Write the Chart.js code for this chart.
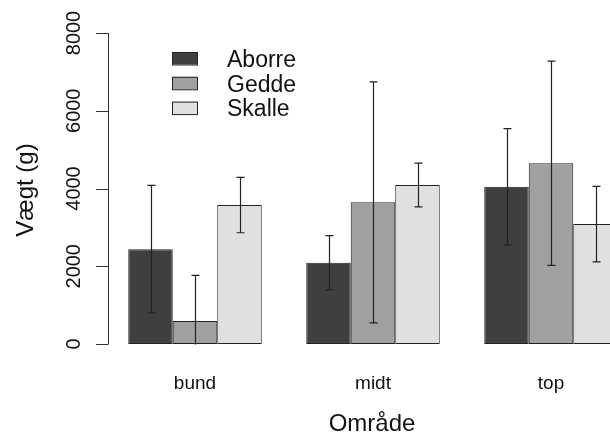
<!DOCTYPE html>
<html><head><meta charset="utf-8">
<script src="https://cdn.jsdelivr.net/npm/chart.js@4/dist/chart.umd.min.js"></script>
<style>
html,body{margin:0;padding:0;background:#fff;overflow:hidden;width:610px;height:441px}
canvas{display:block}
</style>
</head><body>
<canvas id="c" width="640" height="441"></canvas>
<script>
// Mean weight per fish species in each area, with standard deviations
const categories = ['bund', 'midt', 'top'];
const seriesNames = ['Aborre', 'Gedde', 'Skalle'];
const aborre = [2440, 2090, 4045];
const gedde = [590, 3645, 4650];
const skalle = [3575, 4090, 3085];
const aborreSd = [1640, 700, 1495];
const geddeSd = [1175, 3100, 2625];
const skalleSd = [713, 565, 970];
const yTicks = [0, 2000, 4000, 6000, 8000];
const yTitle = 'Vægt (g)';
const xTitle = 'Område';

const fills = ['#3f3f3f', '#a0a0a0', '#e0e0e0'];
const FONT = '"Liberation Sans", Arial, Helvetica, sans-serif';
const INK = '#111';

const values = [aborre, gedde, skalle];
const sds = [aborreSd, geddeSd, skalleSd];

const decorations = {
  id: 'decorations',
  afterDatasetsDraw(chart) {
    const ctx = chart.ctx, y = chart.scales.y, area = chart.chartArea;
    ctx.save();
    ctx.beginPath();
    ctx.rect(area.left, area.top, area.right - area.left, area.bottom - area.top + 0.5);
    ctx.clip();
    ctx.strokeStyle = '#222';
    ctx.lineWidth = 1.2;
    sds.forEach((sd, i) => {
      const meta = chart.getDatasetMeta(i);
      meta.data.forEach((bar, j) => {
        const v = values[i][j];
        const x = Math.round(bar.x) + 0.5;
        const yHi = y.getPixelForValue(v + sd[j]);
        const yLo = y.getPixelForValue(v - sd[j]);
        ctx.beginPath();
        ctx.moveTo(x, yHi); ctx.lineTo(x, yLo);
        ctx.moveTo(x - 4, yHi); ctx.lineTo(x + 4, yHi);
        ctx.moveTo(x - 4, yLo); ctx.lineTo(x + 4, yLo);
        ctx.stroke();
      });
    });
    ctx.restore();
  },
  afterDraw(chart) {
    const ctx = chart.ctx, y = chart.scales.y, x = chart.scales.x;
    ctx.save();
    // y axis line and ticks
    const ax = 108.5;
    ctx.strokeStyle = '#333';
    ctx.lineWidth = 1;
    ctx.beginPath();
    ctx.moveTo(ax, y.getPixelForValue(yTicks[0]));
    ctx.lineTo(ax, y.getPixelForValue(yTicks[yTicks.length - 1]));
    yTicks.forEach(t => {
      const py = Math.round(y.getPixelForValue(t)) + 0.5;
      ctx.moveTo(96, py); ctx.lineTo(ax, py);
    });
    ctx.stroke();
    // rotated tick labels
    ctx.fillStyle = INK;
    ctx.font = '20px ' + FONT;
    ctx.textAlign = 'center';
    ctx.textBaseline = 'alphabetic';
    yTicks.forEach(t => {
      ctx.save();
      ctx.translate(80, y.getPixelForValue(t));
      ctx.rotate(-Math.PI / 2);
      ctx.fillText(String(t), 0, 0);
      ctx.restore();
    });
    // y title
    ctx.save();
    ctx.font = '24px ' + FONT;
    ctx.translate(33, 190);
    ctx.rotate(-Math.PI / 2);
    ctx.fillText(yTitle, 0, 0);
    ctx.restore();
    // category labels
    ctx.font = '19px ' + FONT;
    categories.forEach((c, i) => {
      ctx.fillText(c, x.getPixelForValue(i), 389);
    });
    // x title
    ctx.font = '24px ' + FONT;
    ctx.fillText(xTitle, 372, 431);
    // legend
    ctx.textAlign = 'left';
    ctx.font = '23px ' + FONT;
    seriesNames.forEach((name, i) => {
      const by = 52 + i * 24.8;
      ctx.fillStyle = fills[i];
      ctx.fillRect(172, by, 25, 12.5);
      ctx.strokeStyle = '#222';
      ctx.strokeRect(172.5, by + 0.5, 25, 12.5);
      ctx.fillStyle = INK;
      ctx.fillText(name, 227, 67 + i * 24.6);
    });
    ctx.restore();
  }
};

new Chart(document.getElementById('c'), {
  type: 'bar',
  data: {
    labels: categories,
    datasets: seriesNames.map((name, i) => ({
      label: name,
      data: values[i],
      backgroundColor: fills[i],
      borderColor: '#222',
      borderWidth: 1,
      borderSkipped: false,
      categoryPercentage: 0.75,
      barPercentage: 1.0
    }))
  },
  options: {
    responsive: false,
    devicePixelRatio: 1,
    animation: false,
    events: [],
    layout: { padding: { left: 106, right: 0, top: 33, bottom: 97 } },
    plugins: { legend: { display: false }, tooltip: { enabled: false } },
    scales: {
      x: { display: false, offset: true },
      y: { display: false, min: 0, max: 8000 }
    }
  },
  plugins: [decorations]
});
</script>
</body></html>
